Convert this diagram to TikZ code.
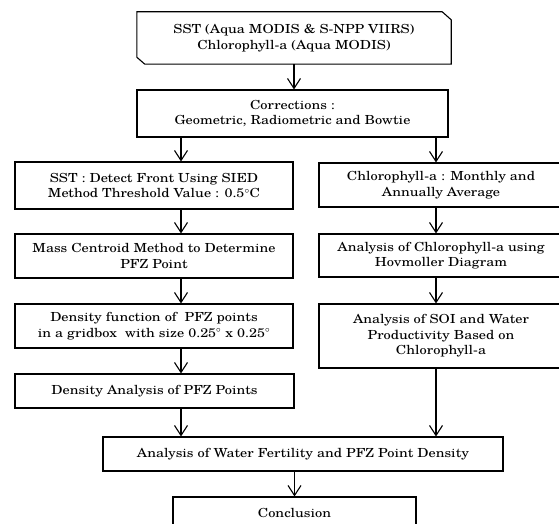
\documentclass[tikz,border=0pt]{standalone}
\usepackage{fontspec}
\setmainfont{TeX Gyre Schola}[FakeStretch=1.15]
\usetikzlibrary{arrows.meta}
\begin{document}
\begin{tikzpicture}[x=1pt,y=-1pt,
  box/.style={draw,line width=1.1pt,rectangle,align=center,inner sep=0pt,
    font=\fontsize{12.5}{15.5}\selectfont},
  plain/.style={align=center,inner sep=0pt,font=\fontsize{12.5}{15.5}\selectfont},
  arr/.style={line width=1.1pt,-{Straight Barb[length=10pt,width=13pt,line width=1.1pt]}}]
\useasboundingbox (0,0) rectangle (559,524);
\clip (0,0) rectangle (559,524);
\coordinate (lx) at (181,0);
\coordinate (rx) at (436,0);
% source (chamfered corners)
\node[plain,minimum width=314pt,minimum height=52pt] (src) at (294,38)
  {SST (Aqua MODIS \& S-NPP VIIRS)\\Chlorophyll-a (Aqua MODIS)};
\draw[line width=1.1pt] (src.north west) -- ([xshift=-9pt]src.north east)
  -- ([yshift=-8pt]src.north east) -- (src.south east)
  -- ([xshift=8pt]src.south west) -- ([yshift=7pt]src.south west) -- cycle;
\node[box,minimum width=311pt,minimum height=47pt] (corr) at (292.5,113.5)
  {Corrections :\\Geometric, Radiometric and Bowtie};
% left column
\node[box,minimum width=278pt,minimum height=47pt] (sst) at (154,185.5)
  {SST : Detect Front Using SIED\\Method Threshold Value : 0.5$^{\circ}$C};
\node[box,minimum width=278pt,minimum height=44pt] (mass) at (154,256)
  {Mass Centroid Method to Determine\\PFZ Point};
\node[box,minimum width=278pt,minimum height=44pt] (dens) at (154,326)
  {Density function of\ \ PFZ points\\in a gridbox\ \ with size 0.25$^{\circ}$ x 0.25$^{\circ}$};
\node[box,minimum width=279pt,minimum height=34pt] (densa) at (154.5,391)
  {Density Analysis of PFZ Points};
% right column
\node[box,minimum width=244pt,minimum height=44pt] (chl) at (441,185)
  {Chlorophyll-a : Monthly and\\Annually Average};
\node[box,minimum width=244pt,minimum height=43pt] (hov) at (441,255.5)
  {Analysis of Chlorophyll-a using\\Hovmoller Diagram};
\node[box,minimum width=244pt,minimum height=64pt] (soi) at (441,336)
  {Analysis of SOI and Water\\Productivity Based on\\Chlorophyll-a};
% bottom
\node[box,minimum width=400pt,minimum height=34pt] (fert) at (303,454)
  {Analysis of Water Fertility and PFZ Point Density};
\node[box,minimum width=243pt,minimum height=32pt] (concl) at (294.5,513)
  {Conclusion};
% arrows
\draw[arr] (src.south) -- (src.south |- corr.north);
\draw[arr] (corr.south -| lx) -- (sst.north -| lx);
\draw[arr] (sst.south -| lx) -- (mass.north -| lx);
\draw[arr] (mass.south -| lx) -- (dens.north -| lx);
\draw[arr] (dens.south -| lx) -- (densa.north -| lx);
\draw[arr] (densa.south -| lx) -- (fert.north -| lx);
\draw[arr] (corr.south -| rx) -- (chl.north -| rx);
\draw[arr] (chl.south -| rx) -- (hov.north -| rx);
\draw[arr] (hov.south -| rx) -- (soi.north -| rx);
\draw[arr] (soi.south -| rx) -- (fert.north -| rx);
\draw[arr] (concl.north |- fert.south) -- (concl.north);
\end{tikzpicture}
\end{document}
